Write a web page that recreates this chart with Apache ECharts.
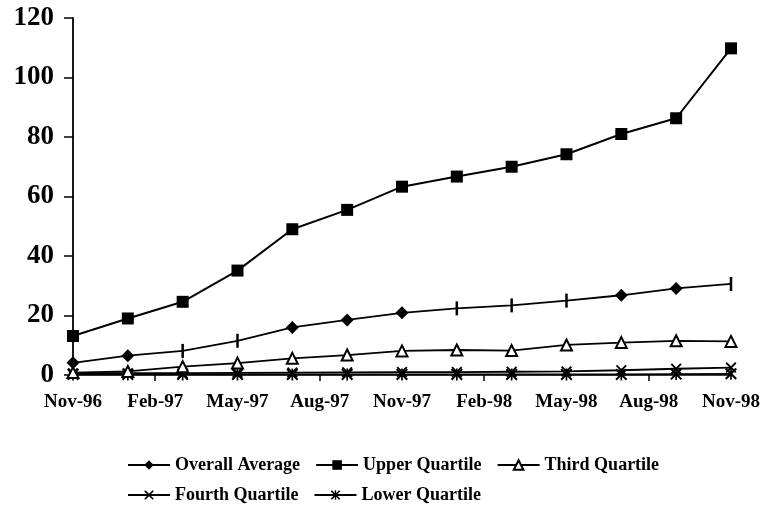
<!DOCTYPE html>
<html>
<head>
<meta charset="utf-8">
<script src="https://cdn.jsdelivr.net/npm/echarts@6/dist/echarts.min.js"></script>
<style>
html,body{margin:0;padding:0;background:#fff;}
#chart{width:763px;height:507px;}
</style>
</head>
<body>
<div id="chart"></div>
<script>
// Monthly category axis, Nov-96 .. Nov-98
const months = ['Nov-96','Dec-96','Jan-97','Feb-97','Mar-97','Apr-97','May-97','Jun-97','Jul-97','Aug-97','Sep-97','Oct-97',
  'Nov-97','Dec-97','Jan-98','Feb-98','Mar-98','Apr-98','May-98','Jun-98','Jul-98','Aug-98','Sep-98','Oct-98','Nov-98'];
// Observation dates (bimonthly)
const sampleMonths = ['Nov-96','Jan-97','Mar-97','May-97','Jul-97','Sep-97','Nov-97','Jan-98','Mar-98','May-98','Jul-98','Sep-98','Nov-98'];

const overallAverage = [4.1, 6.5, 8.1, 11.5, 16.0, 18.5, 20.9, 22.4, 23.4, 25.0, 26.8, 29.1, 30.6];
const upperQuartile  = [13.1, 19.0, 24.6, 35.1, 49.0, 55.5, 63.3, 66.7, 70.0, 74.2, 81.0, 86.3, 109.8];
const thirdQuartile  = [0.8, 1.2, 2.8, 4.0, 5.6, 6.7, 8.1, 8.4, 8.2, 10.1, 10.9, 11.5, 11.3];
const fourthQuartile = [0.6, 0.6, 0.6, 0.7, 0.8, 0.9, 1.0, 1.0, 1.1, 1.2, 1.6, 2.1, 2.5];
const lowerQuartile  = [0.2, 0.2, 0.2, 0.2, 0.2, 0.2, 0.2, 0.2, 0.2, 0.2, 0.2, 0.3, 0.4];

const yTicks = [0, 20, 40, 60, 80, 100, 120];

// marker style helpers
const avgTickMarkerIdx = [2, 3, 7, 8, 9, 12];
const X_PATH = 'path://M0,1.2 L1.2,0 L5,3.8 L8.8,0 L10,1.2 L6.2,5 L10,8.8 L8.8,10 L5,6.2 L1.2,10 L0,8.8 L3.8,5 Z';
const STAR_PATH = 'path://M4.3,0 L5.7,0 L5.7,10 L4.3,10 Z M0,1.2 L1.2,0 L5,3.8 L8.8,0 L10,1.2 L6.2,5 L10,8.8 L8.8,10 L5,6.2 L1.2,10 L0,8.8 L3.8,5 Z';
const TICK_PATH = 'path://M0,0 L10,0 L10,10 L0,10 Z';

function pairs(vals) { return vals.map((v, i) => [sampleMonths[i], v]); }

const avgData = pairs(overallAverage).map((p, i) => avgTickMarkerIdx.includes(i)
  ? { value: p, symbol: TICK_PATH, symbolSize: [2.5, 14] }
  : { value: p });

const FONT = 'Liberation Serif';
const lineBase = { type: 'line', connectNulls: true, showSymbol: true, animation: false,
  lineStyle: { color: '#000', width: 1.8 }, itemStyle: { color: '#000' } };
const legendText = { color: '#000', fontFamily: FONT, fontSize: 18, fontWeight: 'bold' };

const chart = echarts.init(document.getElementById('chart'), null, { renderer: 'canvas' });
chart.setOption({
  backgroundColor: '#fff',
  animation: false,
  grid: { left: 73, right: 30, top: 18, bottom: 132 },
  xAxis: {
    type: 'category', data: months, boundaryGap: false,
    axisLine: { lineStyle: { color: '#000', width: 1.5 } },
    axisTick: { interval: (i) => i % 6 === 3, length: 6, lineStyle: { color: '#000', width: 1.5 } },
    axisLabel: { interval: 2, color: '#000', fontFamily: FONT, fontWeight: 'bold', fontSize: 19, margin: 18 },
    splitLine: { show: false }
  },
  yAxis: {
    type: 'value', min: yTicks[0], max: yTicks[yTicks.length - 1], interval: 20,
    axisLine: { show: true, lineStyle: { color: '#000', width: 1.8 } },
    axisTick: { show: true, length: 9, lineStyle: { color: '#000', width: 1.5 } },
    axisLabel: { color: '#000', fontFamily: FONT, fontWeight: 'bold', fontSize: 27, margin: 19 },
    splitLine: { show: false }
  },
  legend: [
    { data: ['Overall Average', 'Upper Quartile', 'Third Quartile'], left: 122, top: 451, orient: 'horizontal',
      itemWidth: 42, itemHeight: 12, itemGap: 15, textStyle: legendText },
    { data: ['Fourth Quartile', 'Lower Quartile'], left: 122, top: 481, orient: 'horizontal',
      itemWidth: 42, itemHeight: 12, itemGap: 15, textStyle: legendText }
  ],
  series: [
    Object.assign({}, lineBase, { name: 'Lower Quartile', data: pairs(lowerQuartile), symbol: STAR_PATH, symbolSize: 12, z: 2 }),
    Object.assign({}, lineBase, { name: 'Fourth Quartile', data: pairs(fourthQuartile), symbol: X_PATH, symbolSize: 11, z: 3 }),
    Object.assign({}, lineBase, { name: 'Third Quartile', data: pairs(thirdQuartile), symbol: 'triangle', symbolSize: 11,
      itemStyle: { color: '#fff', borderColor: '#000', borderWidth: 2 }, z: 4 }),
    Object.assign({}, lineBase, { name: 'Overall Average', data: avgData, symbol: 'diamond', symbolSize: 13, z: 5 }),
    Object.assign({}, lineBase, { name: 'Upper Quartile', data: pairs(upperQuartile), symbol: 'rect', symbolSize: 12, z: 6,
      lineStyle: { color: '#000', width: 2 } })
  ]
});
</script>
</body>
</html>
